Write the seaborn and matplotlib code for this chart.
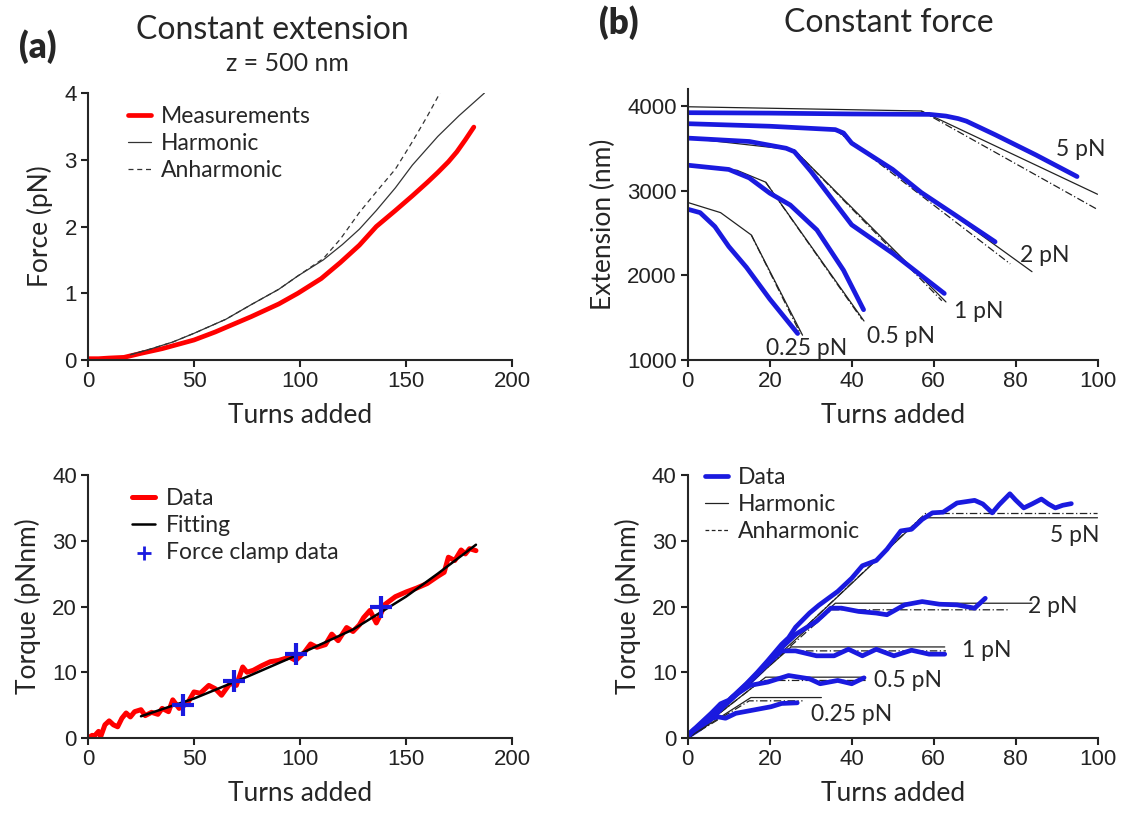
import numpy as np
import matplotlib
matplotlib.use("Agg")
import matplotlib.pyplot as plt
import seaborn as sns

# ---- (a) top: force vs turns at constant extension
meas_x = [0, 5, 10, 17, 25, 35, 50, 60, 77, 90, 99, 110, 119, 128, 136, 145, 153, 160, 165, 170, 174, 178, 182]
meas_y = [0.02, 0.02, 0.03, 0.04, 0.1, 0.17, 0.30, 0.42, 0.65, 0.84, 1.0, 1.22, 1.46, 1.72, 2.0, 2.24, 2.46, 2.66, 2.81, 2.97, 3.12, 3.3, 3.49]
harm_x = [20, 30, 40, 50, 65, 77, 90, 99, 111, 120, 128, 136, 145, 153, 165, 175, 187]
harm_y = [0.08, 0.17, 0.27, 0.40, 0.61, 0.83, 1.06, 1.26, 1.50, 1.73, 1.96, 2.24, 2.58, 2.92, 3.35, 3.66, 4.0]
anh_x = [20, 30, 40, 50, 65, 77, 90, 99, 111, 119, 128, 136, 145, 153, 160, 166]
anh_y = [0.08, 0.17, 0.27, 0.40, 0.61, 0.83, 1.06, 1.26, 1.52, 1.81, 2.21, 2.52, 2.86, 3.27, 3.65, 4.0]

# ---- (a) bottom: torque vs turns
tq_x = [0, 2, 3, 5, 6, 8, 10, 12, 14, 16, 18, 20, 22, 25, 27, 30, 33, 35, 38, 40, 43, 47, 50, 53, 57, 60,
        63, 67, 70, 73, 75, 78, 82, 86, 90, 95, 98, 102, 105, 108, 112, 115, 118, 122, 125, 128, 130, 133,
        136, 138, 140, 145, 150, 155, 160, 165, 168, 170, 173, 176, 178, 180, 183]
tq_y = [0.0, 0.4, 0.3, 1.0, 0.2, 2.0, 2.6, 2.0, 1.7, 3.0, 3.8, 3.2, 4.0, 4.3, 3.4, 3.9, 3.6, 4.5, 4.0, 5.8, 4.5,
        5.3, 7.0, 6.8, 8.0, 7.5, 6.5, 8.3, 8.0, 10.8, 10.0, 10.3, 11.0, 11.6, 11.8, 12.3, 11.8, 13.0, 14.3,
        13.8, 14.2, 15.8, 14.8, 16.8, 16.2, 17.2, 18.3, 19.4, 17.5, 18.8, 20.3, 21.5, 22.2, 22.8, 23.5, 24.6,
        25.2, 27.5, 27.0, 28.6, 28.0, 28.8, 28.5]
fit_x = [25, 50, 75, 100, 125, 150, 165, 183]
fit_y = [3.3, 6.0, 9.3, 12.8, 16.5, 21.5, 25.0, 29.4]
clamp_x = [45, 69, 98, 138]
clamp_y = [5.0, 8.7, 12.7, 20.0]

# ---- (b) top: extension vs turns at constant force
forces = ["5 pN", "2 pN", "1 pN", "0.5 pN", "0.25 pN"]
ext_data_x = [
    [0, 20, 40, 59, 63, 66, 68, 75, 85, 95],
    [0, 20, 36, 38, 40, 50, 57, 65, 75],
    [0, 15, 24, 26, 30, 40, 50, 62.6],
    [0, 10, 15, 20, 25, 31.5, 38, 42.9],
    [0, 3, 6.6, 10, 14.3, 20, 26.8],
]
ext_data_y = [
    [3920, 3915, 3905, 3900, 3880, 3850, 3820, 3660, 3420, 3166],
    [3790, 3760, 3720, 3680, 3560, 3250, 2977, 2720, 2396],
    [3620, 3580, 3500, 3460, 3230, 2596, 2260, 1786],
    [3300, 3250, 3150, 2970, 2830, 2536, 2060, 1594],
    [2780, 2740, 2576, 2340, 2095, 1720, 1313],
]
ext_harm_x = [[0, 57, 100], [0, 36, 84], [0, 26, 63], [0, 12, 19, 43], [0, 8, 15.5, 28]]
ext_harm_y = [[3990, 3940, 2957], [3800, 3720, 2043], [3620, 3480, 1686], [3300, 3240, 3100, 1461], [2860, 2740, 2476, 1293]]
ext_anh_x = [[57, 100], [36, 78.7], [26, 62], [19, 42.5], [15.5, 27.5]]
ext_anh_y = [[3940, 2777], [3720, 2135], [3480, 1700], [3100, 1480], [2476, 1310]]
ext_lab_x = [96, 87, 71, 52, 29]
ext_lab_y = [3480, 2235, 1574, 1273, 1132]

# ---- (b) bottom: torque vs turns at constant force
tqf_data_x = [
    [0, 2, 5.7, 8, 10, 14.3, 17, 19.5, 22.9, 24.6, 26.3, 29.7, 32, 36.6, 40, 42.6, 46, 48.6, 52, 54.6, 57.2,
     59.7, 62.3, 65.7, 70, 72, 74.3, 76, 78.6, 80, 82, 84, 86.3, 88, 89.7, 91.5, 93.6],
    [0, 3, 6, 10, 14, 18, 22.9, 26.3, 31.4, 34.9, 37.5, 41.7, 46, 48.6, 52.9, 57.2, 61.4, 65.7, 70, 72.6],
    [0, 3, 6, 10, 14, 19.5, 22.9, 26.3, 31.4, 35.7, 39.2, 42.6, 46, 50.3, 54.6, 58.9, 62.7],
    [0, 3, 6, 10.9, 15.2, 19.5, 24.6, 29.7, 32.3, 36.6, 40, 43],
    [0, 1.5, 3.5, 5.7, 7.5, 9.2, 11.7, 16, 20.3, 22.9, 26.7],
]
tqf_data_y = [
    [0.5, 1.6, 3.75, 5.2, 5.75, 8.25, 10.0, 11.75, 14.25, 15.25, 16.85, 19.0, 20.2, 22.3, 24.3, 26.2, 27.0,
     28.7, 31.5, 31.75, 33.25, 34.25, 34.35, 35.75, 36.15, 35.6, 34.25, 35.5, 37.15, 36.2, 35.0, 35.6, 36.35,
     35.6, 35.0, 35.4, 35.65],
    [0.3, 1.5, 3.2, 5.5, 7.8, 10.2, 13.75, 15.75, 17.75, 19.75, 19.75, 19.25, 19.0, 18.75, 20.25, 20.75,
     20.35, 20.25, 19.75, 21.25],
    [0.3, 1.6, 3.4, 5.6, 8.0, 11.25, 13.25, 13.25, 12.5, 12.5, 13.5, 12.5, 13.5, 12.5, 13.35, 12.75, 12.75],
    [0.2, 1.4, 3.0, 6.25, 8.0, 8.5, 9.5, 9.0, 8.25, 8.75, 8.25, 9.15],
    [0.2, 1.25, 2.2, 3.0, 3.2, 3.0, 3.75, 4.25, 4.75, 5.25, 5.35],
]
tqf_harm_x = [[0, 57, 100], [0, 36, 84], [0, 25.2, 62.7], [0, 19, 43.4], [0, 15.4, 32.6]]
tqf_harm_y = [[0, 33.5, 33.5], [0, 20.5, 20.5], [0, 13.85, 13.85], [0, 9.25, 9.25], [0, 6.15, 6.15]]
tqf_anh_x = [[0, 58, 100], [0, 35, 78.4], [0, 24, 63], [0, 18, 43.4], [0, 15, 28]]
tqf_anh_y = [[0, 34.15, 34.15], [0, 19.5, 19.5], [0, 13.25, 13.25], [0, 8.75, 8.75], [0, 5.65, 5.65]]
tqf_lab_x = [94.5, 89, 73, 53.7, 40]
tqf_lab_y = [30.75, 20, 13.25, 8.75, 3.5]

sns.set_theme(style="ticks")
plt.rcParams["font.family"] = ["Liberation Sans", "DejaVu Sans"]
plt.rcParams["axes.linewidth"] = 1.5
plt.rcParams["xtick.major.width"] = 1.5
plt.rcParams["ytick.major.width"] = 1.5
plt.rcParams["xtick.major.size"] = 5
plt.rcParams["ytick.major.size"] = 5
plt.rcParams["xtick.labelsize"] = 16
plt.rcParams["ytick.labelsize"] = 16
plt.rcParams["xtick.color"] = "#222222"
plt.rcParams["ytick.color"] = "#222222"

LBL = dict(family="Lato", fontsize=19, labelpad=8)
LEG = dict(family="Lato", size=16.5)
LEGKW = dict(frameon=False, prop=LEG, handlelength=1.0, handletextpad=0.45, labelspacing=0.25,
             borderpad=0, borderaxespad=0, loc="upper left")
RED = "#ff0000"
BLUE = "#1a1adf"

fig = plt.figure(figsize=(11.35, 8.14), dpi=100)
ax1 = fig.add_axes([0.0775, 0.5577, 0.3736, 0.328])
ax2 = fig.add_axes([0.0775, 0.0934, 0.3736, 0.323])
ax3 = fig.add_axes([0.606, 0.5577, 0.361, 0.333])
ax4 = fig.add_axes([0.606, 0.0934, 0.361, 0.323])

# (a) top
sns.lineplot(x=meas_x, y=meas_y, ax=ax1, color=RED, lw=3.4, label="Measurements", estimator=None)
sns.lineplot(x=harm_x, y=harm_y, ax=ax1, color="#333333", lw=0.9, label="Harmonic", estimator=None)
sns.lineplot(x=anh_x, y=anh_y, ax=ax1, color="#333333", lw=0.9, ls=(0, (4, 3)), label="Anharmonic", estimator=None)
ax1.set_xlim(0, 200)
ax1.set_ylim(0, 4)
ax1.set_xticks([0, 50, 100, 150, 200])
ax1.set_yticks([0, 1, 2, 3, 4])
ax1.set_xlabel("Turns added", **LBL)
ax1.set_ylabel("Force (pN)", **LBL)
ax1.legend(bbox_to_anchor=(0.094, 0.95), **LEGKW)

# (a) bottom
sns.lineplot(x=tq_x, y=tq_y, ax=ax2, color=RED, lw=3.6, label="Data", estimator=None)
sns.lineplot(x=fit_x, y=fit_y, ax=ax2, color="black", lw=1.8, label="Fitting", estimator=None)
sns.scatterplot(x=clamp_x, y=clamp_y, ax=ax2, color=BLUE, marker="+", s=260, linewidth=3,
                label="Force clamp data", zorder=5)
ax2.set_xlim(0, 200)
ax2.set_ylim(0, 40)
ax2.set_xticks([0, 50, 100, 150, 200])
ax2.set_yticks([0, 10, 20, 30, 40])
ax2.set_xlabel("Turns added", **LBL)
ax2.set_ylabel("Torque (pNnm)", **LBL)
leg2 = ax2.legend(bbox_to_anchor=(0.105, 0.95), **LEGKW)
leg2.legend_handles[2].set_sizes([90])
leg2.legend_handles[2].set_linewidth(2)

# (b) top
for i in range(len(forces)):
    sns.lineplot(x=ext_harm_x[i], y=ext_harm_y[i], ax=ax3, color="#222222", lw=0.9, estimator=None)
    sns.lineplot(x=ext_anh_x[i], y=ext_anh_y[i], ax=ax3, color="#222222", lw=0.9, ls=(0, (6, 2, 1, 2)), estimator=None)
    sns.lineplot(x=ext_data_x[i], y=ext_data_y[i], ax=ax3, color=BLUE, lw=3.4, estimator=None)
    ax3.text(ext_lab_x[i], ext_lab_y[i], forces[i], ha="center", va="center", family="Lato", fontsize=16.5)
ax3.set_xlim(0, 100)
ax3.set_ylim(1000, 4200)
ax3.set_xticks([0, 20, 40, 60, 80, 100])
ax3.set_yticks([1000, 2000, 3000, 4000])
ax3.set_xlabel("Turns added", **LBL)
ax3.set_ylabel("Extension (nm)", **LBL)

# (b) bottom
for i in range(len(forces)):
    sns.lineplot(x=tqf_harm_x[i], y=tqf_harm_y[i], ax=ax4, color="#222222", lw=0.9, estimator=None,
                 label="Harmonic" if i == 0 else None)
    sns.lineplot(x=tqf_anh_x[i], y=tqf_anh_y[i], ax=ax4, color="#222222", lw=0.9, ls=(0, (6, 2, 1, 2)),
                 estimator=None, label="Anharmonic" if i == 0 else None)
    sns.lineplot(x=tqf_data_x[i], y=tqf_data_y[i], ax=ax4, color=BLUE, lw=3.4, estimator=None,
                 label="Data" if i == 0 else None)
    ax4.text(tqf_lab_x[i], tqf_lab_y[i], forces[i], ha="center", va="center", family="Lato", fontsize=16.5)
ax4.set_xlim(0, 100)
ax4.set_ylim(0, 40)
ax4.set_xticks([0, 20, 40, 60, 80, 100])
ax4.set_yticks([0, 10, 20, 30, 40])
ax4.set_xlabel("Turns added", **LBL)
ax4.set_ylabel("Torque (pNnm)", **LBL)
h, l = ax4.get_legend_handles_labels()
order = [l.index("Data"), l.index("Harmonic"), l.index("Anharmonic")]
leg4 = ax4.legend([h[k] for k in order], [l[k] for k in order], bbox_to_anchor=(0.041, 1.03), **LEGKW)
leg4.get_lines()[2].set_linestyle((0, (3, 2)))

for ax in (ax1, ax2, ax3, ax4):
    sns.despine(ax=ax)
    ax.tick_params(direction="out", pad=3)

fig.text(0.033, 0.943, "(a)", family="Lato", fontsize=25, fontweight="heavy", ha="center", va="center")
fig.text(0.24, 0.963, "Constant extension", family="Lato", fontsize=23, ha="center", va="center")
fig.text(0.253, 0.922, "z = 500 nm", family="Lato", fontsize=18, ha="center", va="center")
fig.text(0.545, 0.972, "(b)", family="Lato", fontsize=25, fontweight="heavy", ha="center", va="center")
fig.text(0.783, 0.972, "Constant force", family="Lato", fontsize=23, ha="center", va="center")

fig.savefig("out.png", dpi=100)
